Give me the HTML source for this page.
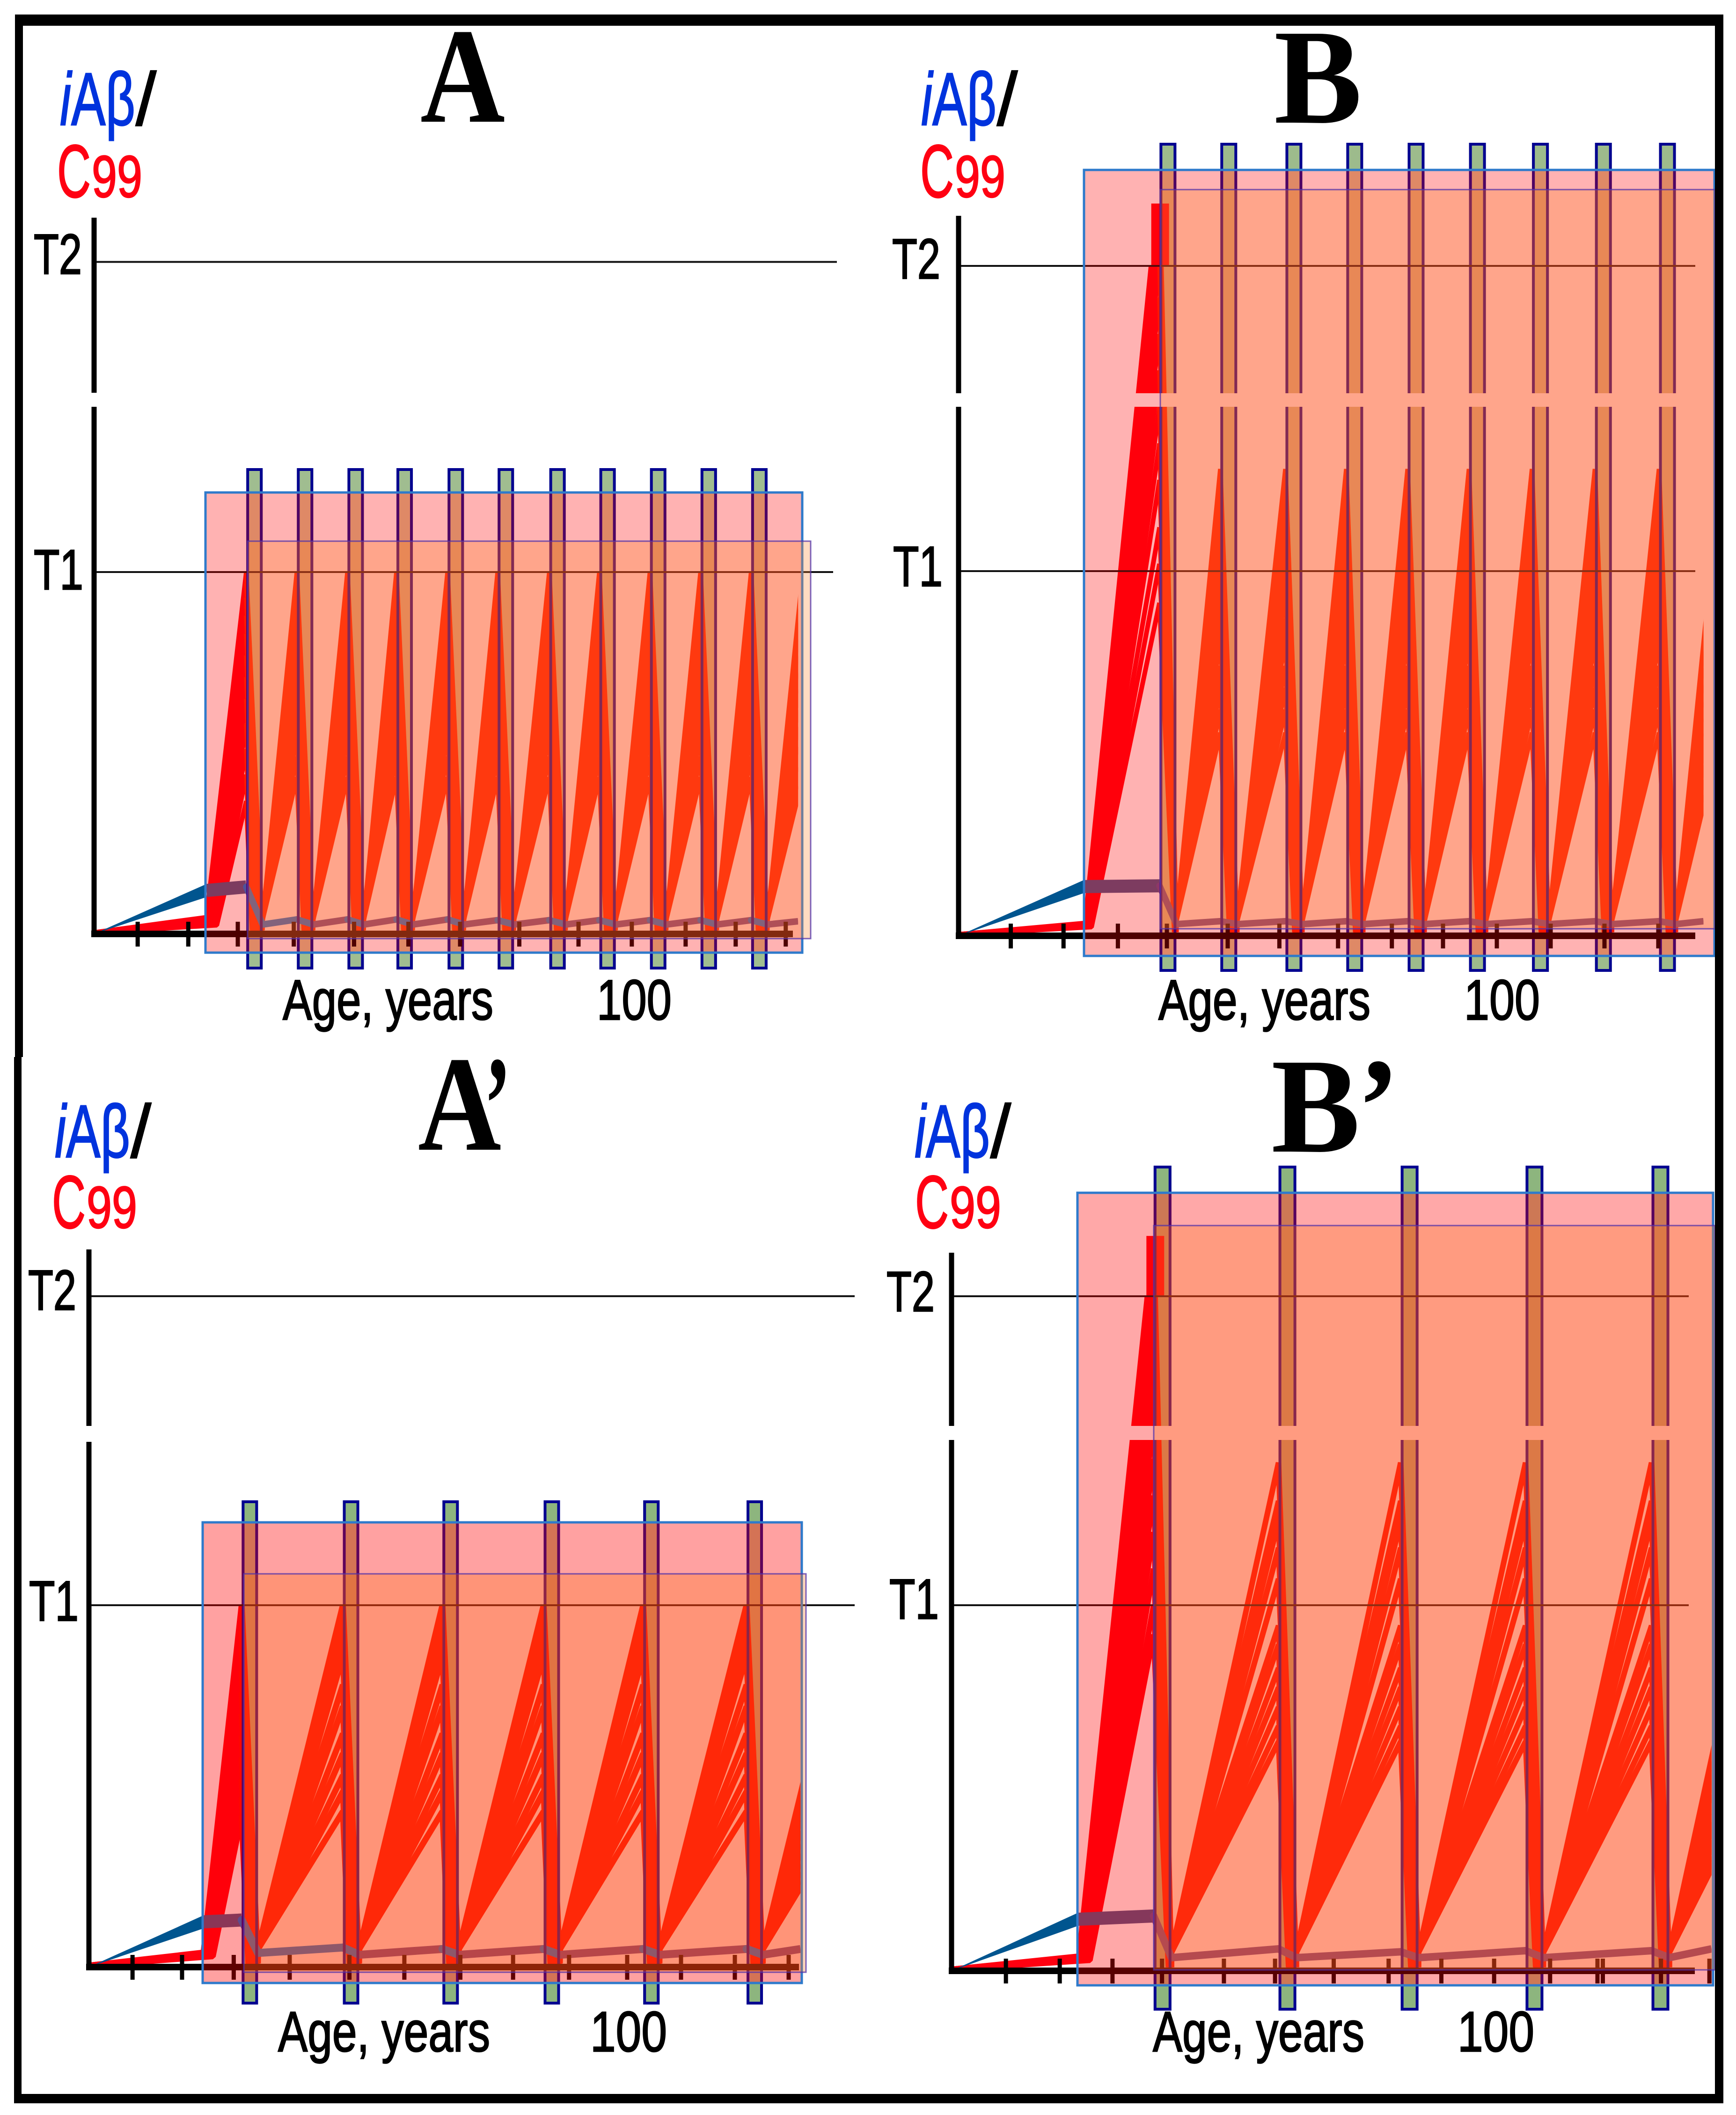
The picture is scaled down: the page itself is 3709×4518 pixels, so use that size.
<!DOCTYPE html>
<html lang="en">
<head>
<meta charset="utf-8">
<title>iAβ and C99 dynamics, panels A, B, A', B'</title>
<style>
html,body{margin:0;padding:0;background:#fff;}
svg{display:block;}
text{font-family:"Liberation Sans",sans-serif;}
text[fill="#0033dd"]{stroke:#0033dd;stroke-width:2.5;}
text[fill="#ff0012"]{stroke:#ff0012;stroke-width:2.5;}
text[fill="#000"]{stroke:#000;stroke-width:2.5;}
.ttl{font-family:"Liberation Serif",serif;font-weight:bold;fill:#000;}
</style>
</head>
<body>
<svg id="figure" xmlns="http://www.w3.org/2000/svg" width="3709" height="4518" viewBox="0 0 3709 4518">
  <rect x="0" y="0" width="3709" height="4518" fill="#fff"/>
  <g id="panel-a"></g>
  <g id="panel-b"></g>
  <g id="panel-ap"></g>
  <g id="panel-bp"></g>

  <g fill="#000">
    <rect x="32" y="31" width="3650" height="24"/>
    <rect x="30" y="4473" width="3652" height="20"/>
    <rect x="32" y="31" width="17" height="2227"/>
    <rect x="30" y="2258" width="16" height="2235"/>
    <rect x="3664" y="31" width="18" height="4462"/>
  </g>

  <!-- Panel A labels -->
  <g>
    <text class="ttl" x="898" y="260" font-size="290" textLength="181" lengthAdjust="spacingAndGlyphs">A</text>
    <text x="128" y="267" font-size="160" font-style="italic" fill="#0033dd" textLength="24" lengthAdjust="spacingAndGlyphs">i</text>
    <text x="152" y="267" font-size="160" fill="#0033dd" textLength="137" lengthAdjust="spacingAndGlyphs">Aβ</text>
    <text x="290" y="267" font-size="160" fill="#000" textLength="44" lengthAdjust="spacingAndGlyphs">/</text>
    <text x="122" y="421" font-size="160" fill="#ff0012" textLength="72" lengthAdjust="spacingAndGlyphs">C</text>
    <text x="196" y="421" font-size="126" fill="#ff0012" textLength="108" lengthAdjust="spacingAndGlyphs">99</text>
    <text x="72" y="585" font-size="122" fill="#000" textLength="103" lengthAdjust="spacingAndGlyphs">T2</text>
    <text x="72" y="1259" font-size="122" fill="#000" textLength="106" lengthAdjust="spacingAndGlyphs">T1</text>
    <text x="604" y="2178" font-size="122" fill="#000" textLength="450" lengthAdjust="spacingAndGlyphs">Age, years</text>
    <text x="1275" y="2178" font-size="122" fill="#000" textLength="160" lengthAdjust="spacingAndGlyphs">100</text>
  </g>

  <!-- Panel B labels -->
  <g>
    <text class="ttl" x="2722" y="262" font-size="290" textLength="188" lengthAdjust="spacingAndGlyphs">B</text>
    <text x="1968" y="267" font-size="160" font-style="italic" fill="#0033dd" textLength="24" lengthAdjust="spacingAndGlyphs">i</text>
    <text x="1992" y="267" font-size="160" fill="#0033dd" textLength="137" lengthAdjust="spacingAndGlyphs">Aβ</text>
    <text x="2130" y="267" font-size="160" fill="#000" textLength="44" lengthAdjust="spacingAndGlyphs">/</text>
    <text x="1966" y="421" font-size="160" fill="#ff0012" textLength="72" lengthAdjust="spacingAndGlyphs">C</text>
    <text x="2040" y="421" font-size="126" fill="#ff0012" textLength="108" lengthAdjust="spacingAndGlyphs">99</text>
    <text x="1906" y="595" font-size="122" fill="#000" textLength="103" lengthAdjust="spacingAndGlyphs">T2</text>
    <text x="1908" y="1252" font-size="122" fill="#000" textLength="106" lengthAdjust="spacingAndGlyphs">T1</text>
    <text x="2475" y="2178" font-size="122" fill="#000" textLength="453" lengthAdjust="spacingAndGlyphs">Age, years</text>
    <text x="3128" y="2178" font-size="122" fill="#000" textLength="162" lengthAdjust="spacingAndGlyphs">100</text>
  </g>

  <!-- Panel A' labels -->
  <g>
    <text class="ttl" x="893" y="2456" font-size="290" textLength="178" lengthAdjust="spacingAndGlyphs">A</text>
    <text class="ttl" x="1034" y="2456" font-size="290" textLength="58" lengthAdjust="spacingAndGlyphs">’</text>
    <text x="117" y="2472" font-size="160" font-style="italic" fill="#0033dd" textLength="24" lengthAdjust="spacingAndGlyphs">i</text>
    <text x="141" y="2472" font-size="160" fill="#0033dd" textLength="137" lengthAdjust="spacingAndGlyphs">Aβ</text>
    <text x="279" y="2472" font-size="160" fill="#000" textLength="44" lengthAdjust="spacingAndGlyphs">/</text>
    <text x="111" y="2623" font-size="160" fill="#ff0012" textLength="72" lengthAdjust="spacingAndGlyphs">C</text>
    <text x="185" y="2623" font-size="126" fill="#ff0012" textLength="108" lengthAdjust="spacingAndGlyphs">99</text>
    <text x="60" y="2798" font-size="122" fill="#000" textLength="103" lengthAdjust="spacingAndGlyphs">T2</text>
    <text x="62" y="3462" font-size="122" fill="#000" textLength="106" lengthAdjust="spacingAndGlyphs">T1</text>
    <text x="594" y="4382" font-size="122" fill="#000" textLength="453" lengthAdjust="spacingAndGlyphs">Age, years</text>
    <text x="1261" y="4382" font-size="122" fill="#000" textLength="164" lengthAdjust="spacingAndGlyphs">100</text>
  </g>

  <!-- Panel B' labels -->
  <g>
    <text class="ttl" x="2716" y="2460" font-size="290" textLength="190" lengthAdjust="spacingAndGlyphs">B</text>
    <text class="ttl" x="2900" y="2460" font-size="290" textLength="90" lengthAdjust="spacingAndGlyphs">’</text>
    <text x="1954" y="2472" font-size="160" font-style="italic" fill="#0033dd" textLength="24" lengthAdjust="spacingAndGlyphs">i</text>
    <text x="1978" y="2472" font-size="160" fill="#0033dd" textLength="137" lengthAdjust="spacingAndGlyphs">Aβ</text>
    <text x="2116" y="2472" font-size="160" fill="#000" textLength="44" lengthAdjust="spacingAndGlyphs">/</text>
    <text x="1955" y="2623" font-size="160" fill="#ff0012" textLength="72" lengthAdjust="spacingAndGlyphs">C</text>
    <text x="2029" y="2623" font-size="126" fill="#ff0012" textLength="110" lengthAdjust="spacingAndGlyphs">99</text>
    <text x="1894" y="2801" font-size="122" fill="#000" textLength="103" lengthAdjust="spacingAndGlyphs">T2</text>
    <text x="1900" y="3458" font-size="122" fill="#000" textLength="106" lengthAdjust="spacingAndGlyphs">T1</text>
    <text x="2463" y="4382" font-size="122" fill="#000" textLength="452" lengthAdjust="spacingAndGlyphs">Age, years</text>
    <text x="3114" y="4382" font-size="122" fill="#000" textLength="164" lengthAdjust="spacingAndGlyphs">100</text>
  </g>
</svg>

<script>
// ---------- Panel A data (ages in years, values relative to T1 = 1) ----------
const aBarAges = [29.8, 39.2, 48.6, 57.7, 67.2, 76.5, 86.1, 95.4, 104.8, 114.2, 123.6];
const aNextCycleAge = 133.2;
const aEndAge = 130.8;
const aTickAges = [8.1, 17.5, 26.7, 37.1, 48.3, 58.4, 68, 79, 90, 99.9, 109.9, 119.2, 128.5];
const aThresholdT2 = 1.857;
const aC99Peaks = [1.0, 0.96, 0.92, 0.87, 0.82, 0.77, 0.72, 0.66, 0.61, 0.55, 0.49, 0.433];
const aC99FirstPeaks = [1.0, 0.97, 0.93, 0.88, 0.83, 0.77, 0.71, 0.65, 0.58, 0.51, 0.44, 0.367];
const aOnsetAges = [20.9, 21.1, 21.3, 21.4, 21.6, 21.8, 21.9, 22.1, 22.3, 22.4, 22.6, 22.8];
const aOnsetValues = [0.046, 0.044, 0.042, 0.04, 0.038, 0.036, 0.034, 0.032, 0.03, 0.028, 0.026, 0.024];
const aC99Trough = 0.04;
const aIabOnset = [20.9, 0.12];
const aIabPeaks = [0.13, 0.04, 0.04, 0.04, 0.04, 0.038, 0.038, 0.038, 0.038, 0.038, 0.038];
const aIabTroughs = [0.026, 0.026, 0.026, 0.026, 0.026, 0.026, 0.026, 0.026, 0.026, 0.026, 0.026];
const aIabEnd = 0.035;

// ---------- Panel B data ----------
const bBarAges = [38.9, 50.2, 62.3, 73.6, 85.0, 96.4, 108.1, 119.8, 131.7];
const bNextCycleAge = 143.2;
const bEndAge = 138.4;
const bTickAges = [9.7, 19.5, 29.6, 38.7, 50, 59.6, 70.5, 80.5, 90, 100, 110, 120, 130];
const bThresholdT2 = 1.837;
const bC99Peaks = [1.28, 1.22, 1.15, 1.08, 1.01, 0.94, 0.87, 0.81, 0.74, 0.68, 0.62, 0.557];
const bC99FirstPeaks = [2.07, 1.95, 1.85, 1.75, 1.65, 1.55, 1.45, 1.35, 1.25, 1.12, 1.02, 0.913];
const bOnsetAges = [23.5, 23.6, 23.7, 23.8, 23.9, 24.0, 24.1, 24.2, 24.3, 24.4, 24.6, 24.7];
const bOnsetValues = [0.035, 0.034, 0.033, 0.032, 0.031, 0.03, 0.029, 0.028, 0.027, 0.026, 0.025, 0.024];
const bC99Trough = 0.04;
const bCapAges = [35.8, 39.1];
const bCapTop = 2.008;
const bIabOnset = [23.3, 0.135];
const bIabPeaks = [0.137, 0.04, 0.04, 0.04, 0.04, 0.04, 0.04, 0.04, 0.04];
const bIabTroughs = [0.032, 0.032, 0.032, 0.032, 0.032, 0.032, 0.032, 0.032, 0.032];
const bIabEnd = 0.04;

// ---------- Panel A' data ----------
const apBarAges = [29.9, 48.7, 67.2, 86.0, 104.5, 123.7];
const apNextCycleAge = 142.3;
const apEndAge = 132.2;
const apTickAges = [8.1, 17.3, 26.9, 37.3, 48.4, 58.6, 69, 78.8, 89.2, 100, 110, 120, 130];
const apThresholdT2 = 1.854;
const apC99Peaks = [1.0, 0.95, 0.905, 0.86, 0.78, 0.72, 0.645, 0.59, 0.53, 0.485, 0.43];
const apC99FirstPeaks = [1.0, 0.93, 0.88, 0.82, 0.76, 0.70, 0.64, 0.58, 0.52, 0.47, 0.42];
const apOnsetAges = [21.3, 21.5, 21.6, 21.8, 22.0, 22.2, 22.3, 22.5, 22.7, 22.8, 23.0];
const apOnsetValues = [0.04, 0.039, 0.038, 0.037, 0.036, 0.035, 0.034, 0.033, 0.032, 0.031, 0.03];
const apC99Trough = 0.05;
const apIabOnset = [21.3, 0.125];
const apIabPeaks = [0.13, 0.054, 0.05, 0.05, 0.05, 0.05];
const apIabTroughs = [0.039, 0.034, 0.034, 0.034, 0.034, 0.034];
const apIabEnd = 0.05;

// ---------- Panel B' data ----------
const bpBarAges = [39.2, 62.4, 85.1, 108.3, 131.7];
const bpNextCycleAge = 154.8;
const bpEndAge = 141.2;
const bpTickAges = [10.1, 20.1, 29.9, 39.1, 50.6, 60.1, 71, 81.2, 91, 100.8, 111.2, 120, 121, 131.8, 140.8];
const bpThresholdT2 = 1.845;
const bpC99Peaks = [1.39, 1.285, 1.23, 1.157, 1.072, 0.944, 0.892, 0.828, 0.775, 0.721, 0.669, 0.627];
const bpC99FirstPeaks = [2.01, 1.9, 1.8, 1.7, 1.6, 1.5, 1.4, 1.3, 1.2, 1.1, 1.0, 0.92];
const bpOnsetAges = [23.7, 23.9, 24.0, 24.2, 24.4, 24.5, 24.7, 24.9, 25.0, 25.2, 25.4, 25.7];
const bpOnsetValues = [0.04, 0.039, 0.038, 0.037, 0.036, 0.035, 0.034, 0.033, 0.032, 0.031, 0.03, 0.029];
const bpC99Trough = 0.05;
const bpCapAges = [36.2, 39.5];
const bpCapTop = 2.01;
const bpIabOnset = [23.5, 0.141];
const bpIabPeaks = [0.15, 0.06, 0.052, 0.055, 0.055];
const bpIabTroughs = [0.036, 0.036, 0.036, 0.036, 0.036];
const bpIabEnd = 0.06;

const SVGNS = 'http://www.w3.org/2000/svg';
function mk(parent, tag, attrs) {
  const el = document.createElementNS(SVGNS, tag);
  for (const k in attrs) el.setAttribute(k, attrs[k]);
  parent.appendChild(el);
  return el;
}

function drawPanel(id, L, D) {
  const root = document.getElementById(id);
  const x = a => L.x0 + a * L.xs;
  const y = v => L.y0 - v * L.ys;
  const half = L.barW / 2 / L.xs;
  const clipId = id + '-clip';
  const defs = mk(root, 'defs', {});
  const cp = mk(defs, 'clipPath', { id: clipId });
  mk(cp, 'rect', { x: L.x0 - 20, y: y(D.t2), width: x(D.endAge) - L.x0 + 20, height: L.y0 + 40 - y(D.t2) });

  // bar fills
  D.bars.forEach(b => {
    const r = mk(root, 'rect', { x: x(b) - L.barW / 2, y: L.barTop, width: L.barW, height: L.barBot - L.barTop, fill: L.barFill });
    
    
    const t = mk(root, 'rect', { x: x(b) - L.barW / 2, y: L.pinkT, width: L.barW, height: L.pinkB - L.pinkT, fill: L.barTint });
    
    
  });

  // C99 lines
  const series = mk(root, 'g', { 'clip-path': 'url(#' + clipId + ')' });
  
  
  const dropRate = 0.33;
  const toPts = arr => arr.map(q => x(q[0]).toFixed(1) + ',' + y(q[1]).toFixed(1)).join(' ');
  D.peaks.forEach((pk, li) => {
    const onset = [[0, 0.004], [D.onsetAges[li], D.onsetValues[li]]];
    const cycles = [];
    D.bars.forEach((b, i) => {
      const left = b - half;
      const p = i === 0 ? D.firstPeaks[li] : pk;
      if (i === 0) onset.push([left, p]);
      cycles.push([left, p]);
      const end = Math.min(left + (p - 0.01) / dropRate, left + 2 * half);
      cycles.push([end, 0.01]);
      cycles.push([left + 2 * half, D.trough]);
    });
    cycles.push([D.nextAge - half, pk]);
    const line = mk(series, 'polyline', {
      points: toPts(onset),
      fill: 'none', stroke: '#ff0010', 'stroke-width': L.redW, 'stroke-linejoin': 'bevel'
    });
    
    
    const fan = mk(series, 'polyline', {
      points: toPts(cycles),
      fill: 'none', stroke: L.fanColor, 'stroke-width': L.redW, 'stroke-linejoin': 'bevel'
    });
    
    
  });

  // iAβ: initial rise wedge
  const wedge = mk(series, 'polygon', {
    points: [[x(0), y(0)], [x(D.iabOnset[0]), y(D.iabOnset[1]) - L.plateauW / 2], [x(D.iabOnset[0]), y(D.iabOnset[1]) + L.plateauW / 2]]
      .map(q => q[0].toFixed(1) + ',' + q[1].toFixed(1)).join(' '),
    fill: '#00558f'
  });
  
  

  // iAβ: plateau
  const plat = mk(series, 'line', {
    x1: x(D.iabOnset[0]), y1: y(D.iabOnset[1]), x2: x(D.bars[0] - half), y2: y(D.iabPeaks[0]),
    stroke: '#46568a', 'stroke-width': L.plateauW
  });
  
  

  // iAβ: cycles
  D.bars.forEach((b, i) => {
    const left = b - half, right = b + half;
    const drop = mk(series, 'line', {
      x1: x(left), y1: y(D.iabPeaks[i]), x2: x(right), y2: y(D.iabTroughs[i]),
      stroke: L.dropColor, 'stroke-width': L.iabW, 'stroke-linecap': 'round'
    });
    
    
    const nextAge = i + 1 < D.bars.length ? D.bars[i + 1] - half : D.endAge;
    const nextVal = i + 1 < D.bars.length ? D.iabPeaks[i + 1] : D.iabEnd;
    const rise = mk(series, 'line', {
      x1: x(right), y1: y(D.iabTroughs[i]), x2: x(nextAge), y2: y(nextVal),
      stroke: (i === 0 && L.firstRiseGray) ? L.dropColor : '#5e5095', 'stroke-width': L.iabW, 'stroke-linecap': 'butt'
    });
    
    
  });

  // clipped C99 block above T2
  if (D.capAges) {
    const cap = mk(root, 'rect', {
      x: x(D.capAges[0]), y: y(D.capTop), width: x(D.capAges[1]) - x(D.capAges[0]), height: y(D.t2) - y(D.capTop), fill: '#ff0010'
    });
    
    
  }

  // bar borders
  D.bars.forEach(b => {
    const r = mk(root, 'rect', {
      x: x(b) - L.barW / 2 + 3, y: L.barTop + 3, width: L.barW - 6, height: L.barBot - L.barTop - 6,
      fill: 'none', stroke: '#000090', 'stroke-width': 6
    });
    
    
  });

  // axes
  D.ticks.forEach(t => {
    const tk = mk(root, 'line', { x1: x(t), y1: L.y0 - 26, x2: x(t), y2: L.y0 + 27, stroke: '#000', 'stroke-width': 9 });
    
    
  });
  const xa = mk(root, 'line', { x1: L.x0 - 6, y1: L.y0, x2: L.xAxisEnd, y2: L.y0, stroke: '#000', 'stroke-width': 14 });
  
  
  const ya = mk(root, 'line', { x1: L.x0, y1: L.axisTop, x2: L.x0, y2: L.y0 + 6, stroke: '#000', 'stroke-width': 11 });
  
  

  // thresholds
  const t2 = mk(root, 'line', { x1: L.x0 + 5, y1: y(D.t2), x2: L.tEnd2, y2: y(D.t2), stroke: '#111', 'stroke-width': 4 });
  
  
  const t1 = mk(root, 'line', { x1: L.x0 + 5, y1: y(1), x2: L.tEnd1, y2: y(1), stroke: '#111', 'stroke-width': 4 });
  
  

  // axis break band
  const band = mk(root, 'rect', { x: L.x0 - 12, y: L.gapTop, width: L.pinkR - L.x0 + 12, height: L.gapBot - L.gapTop, fill: '#fff' });
  
  

  // overlays
  const pink = mk(root, 'rect', {
    x: L.pinkL, y: L.pinkT, width: L.pinkR - L.pinkL, height: L.pinkB - L.pinkT,
    fill: L.pinkFill, stroke: '#2e7acb', 'stroke-width': 5
  });
  
  
  const org = mk(root, 'rect', {
    x: L.orgL, y: L.orgT, width: L.orgR - L.orgL, height: L.orgB - L.orgT,
    fill: L.orgFill, stroke: 'rgba(80,50,170,0.75)', 'stroke-width': 3
  });
  
  
}

drawPanel('panel-a', {
  x0: 201, y0: 1995, xs: 11.5, ys: 773, axisTop: 465, xAxisEnd: 1694, tEnd2: 1788, tEnd1: 1780,
  gapTop: 839, gapBot: 869, barW: 35, barTop: 1000, barBot: 2071, barFill: '#a0bd90', barTint: '#d2c592',
  redW: 10, fanColor: '#ff2300', iabW: 14, plateauW: 28, dropColor: '#0078e0', firstRiseGray: true,
  pinkL: 439, pinkT: 1052, pinkR: 1714, pinkB: 2035, pinkFill: 'rgba(255,0,0,0.30)',
  orgL: 529, orgT: 1156, orgR: 1732, orgB: 2005, orgFill: 'rgba(255,136,50,0.30)'
}, {
  bars: aBarAges, nextAge: aNextCycleAge, endAge: aEndAge, ticks: aTickAges, t2: aThresholdT2,
  peaks: aC99Peaks, firstPeaks: aC99FirstPeaks, onsetAges: aOnsetAges, onsetValues: aOnsetValues, trough: aC99Trough,
  iabOnset: aIabOnset, iabPeaks: aIabPeaks, iabTroughs: aIabTroughs, iabEnd: aIabEnd
});

drawPanel('panel-b', {
  x0: 2048, y0: 1999, xs: 11.5, ys: 779, axisTop: 461, xAxisEnd: 3622, tEnd2: 3622, tEnd1: 3622,
  gapTop: 840, gapBot: 869, barW: 36, barTop: 305, barBot: 2076, barFill: '#9dbb8c', barTint: '#d2c592',
  redW: 10, fanColor: '#ff2300', iabW: 14, plateauW: 28, dropColor: '#5e5095', firstRiseGray: false,
  pinkL: 2316, pinkT: 363, pinkR: 3663, pinkB: 2042, pinkFill: 'rgba(255,0,0,0.30)',
  orgL: 2479, orgT: 405, orgR: 3664, orgB: 1984, orgFill: 'rgba(255,136,50,0.30)'
}, {
  bars: bBarAges, nextAge: bNextCycleAge, endAge: bEndAge, ticks: bTickAges, t2: bThresholdT2,
  peaks: bC99Peaks, firstPeaks: bC99FirstPeaks, onsetAges: bOnsetAges, onsetValues: bOnsetValues, trough: bC99Trough,
  capAges: bCapAges, capTop: bCapTop,
  iabOnset: bIabOnset, iabPeaks: bIabPeaks, iabTroughs: bIabTroughs, iabEnd: bIabEnd
});

drawPanel('panel-ap', {
  x0: 190, y0: 4202, xs: 11.5, ys: 773, axisTop: 2669, xAxisEnd: 1707, tEnd2: 1826, tEnd1: 1826,
  gapTop: 3046, gapBot: 3080, barW: 35, barTop: 3205, barBot: 4282, barFill: '#8db57e', barTint: '#bbb687',
  redW: 13, fanColor: '#ff0a00', iabW: 17, plateauW: 28, dropColor: '#0078e0', firstRiseGray: true,
  pinkL: 433, pinkT: 3252, pinkR: 1713, pinkB: 4236, pinkFill: 'rgba(255,0,0,0.37)',
  orgL: 521, orgT: 3362, orgR: 1722, orgB: 4213, orgFill: 'rgba(255,120,27,0.30)'
}, {
  bars: apBarAges, nextAge: apNextCycleAge, endAge: apEndAge, ticks: apTickAges, t2: apThresholdT2,
  peaks: apC99Peaks, firstPeaks: apC99FirstPeaks, onsetAges: apOnsetAges, onsetValues: apOnsetValues, trough: apC99Trough,
  iabOnset: apIabOnset, iabPeaks: apIabPeaks, iabTroughs: apIabTroughs, iabEnd: apIabEnd
});

drawPanel('panel-bp', {
  x0: 2033, y0: 4210, xs: 11.5, ys: 781, axisTop: 2676, xAxisEnd: 3621, tEnd2: 3608, tEnd1: 3608,
  gapTop: 3046, gapBot: 3076, barW: 38, barTop: 2490, barBot: 4295, barFill: '#8db57e', barTint: '#b3b681',
  redW: 12, fanColor: '#ff0a00', iabW: 16, plateauW: 28, dropColor: '#5e5095', firstRiseGray: false,
  pinkL: 2302, pinkT: 2548, pinkR: 3660, pinkB: 4241, pinkFill: 'rgba(255,0,0,0.34)',
  orgL: 2465, orgT: 2618, orgR: 3664, orgB: 4208, orgFill: 'rgba(255,125,35,0.30)'
}, {
  bars: bpBarAges, nextAge: bpNextCycleAge, endAge: bpEndAge, ticks: bpTickAges, t2: bpThresholdT2,
  peaks: bpC99Peaks, firstPeaks: bpC99FirstPeaks, onsetAges: bpOnsetAges, onsetValues: bpOnsetValues, trough: bpC99Trough,
  capAges: bpCapAges, capTop: bpCapTop,
  iabOnset: bpIabOnset, iabPeaks: bpIabPeaks, iabTroughs: bpIabTroughs, iabEnd: bpIabEnd
});
</script>
</body>
</html>
